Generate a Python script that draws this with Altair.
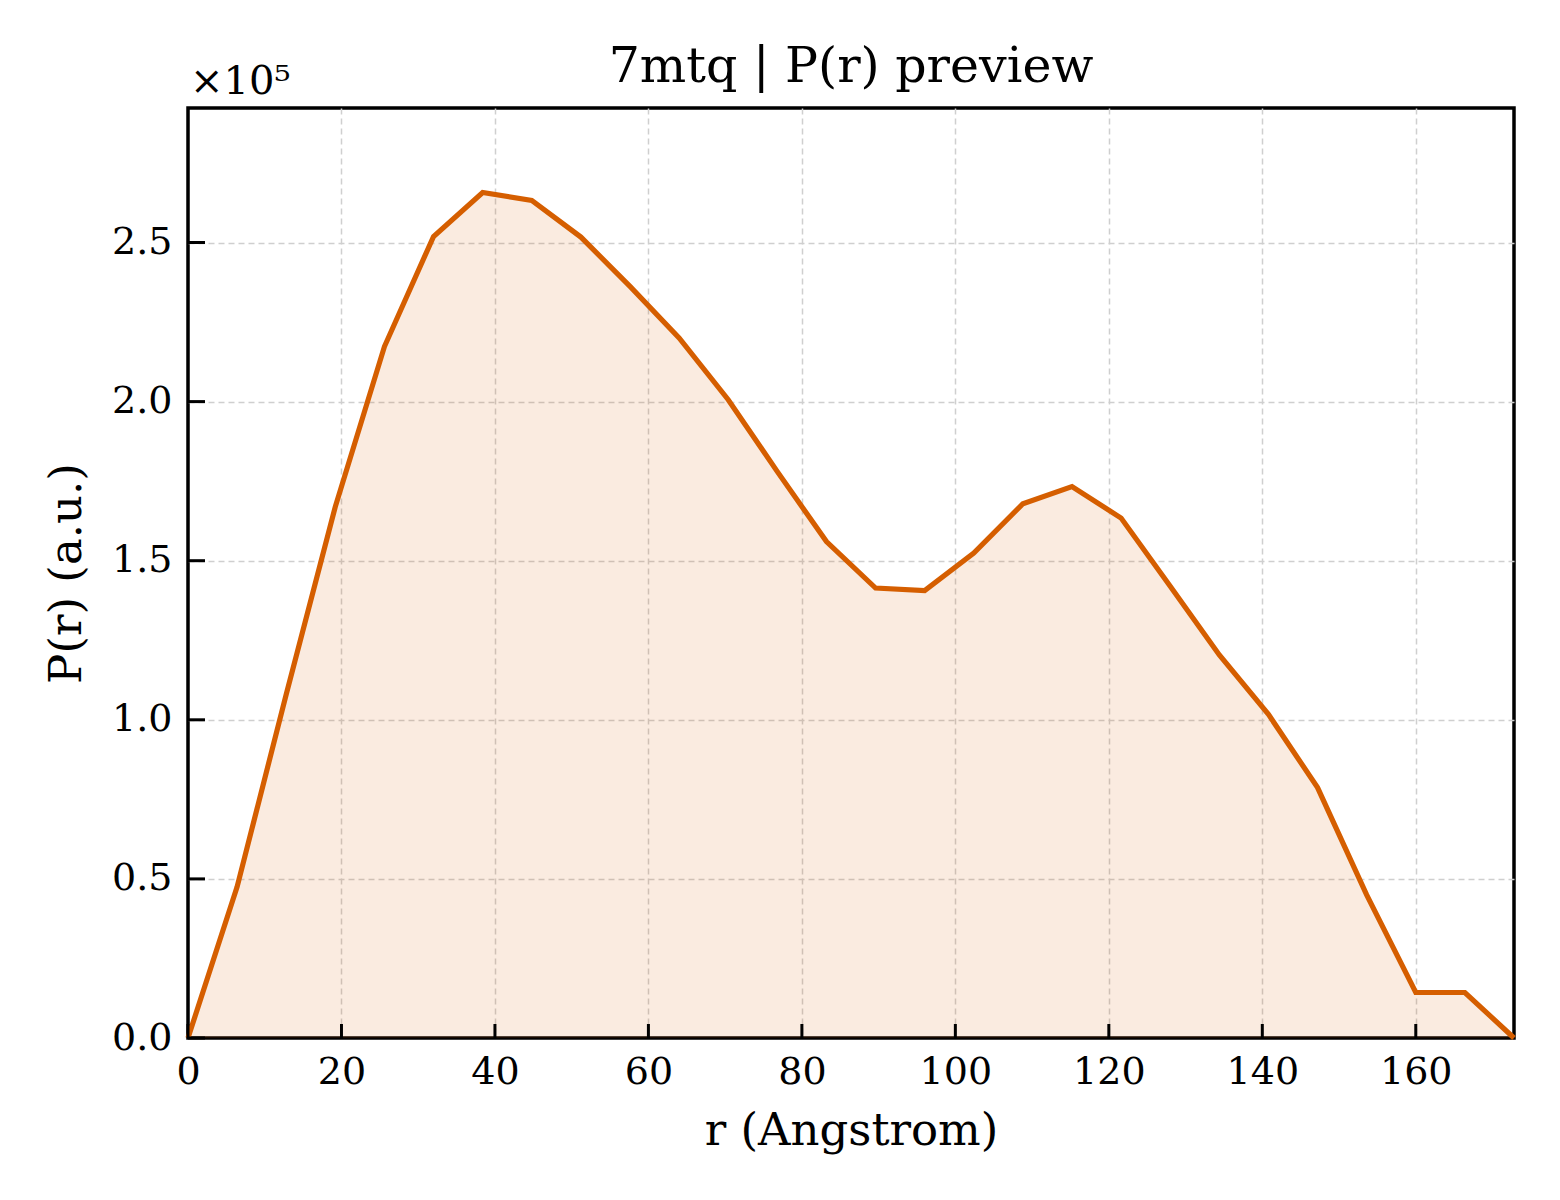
import altair as alt
import pandas as pd

# ---- data ----
r_values = [0.0, 6.4, 12.8, 19.2, 25.6, 32.0, 38.4, 44.8, 51.2, 57.6, 64.0, 70.4,
            76.8, 83.2, 89.6, 96.0, 102.4, 108.8, 115.2, 121.6, 128.0, 134.4,
            140.8, 147.2, 153.6, 160.0, 166.4, 172.8]
pr_values = [0, 47500, 108000, 167000, 217300, 251900, 265700, 263200, 251700,
             236200, 220000, 200600, 178000, 156000, 141400, 140600, 152400,
             167900, 173300, 163400, 142000, 120400, 101700, 78700, 45000,
             14300, 14300, 0]
x_ticks = [0, 20, 40, 60, 80, 100, 120, 140, 160]
y_ticks = [0, 50000, 100000, 150000, 200000, 250000]
x_domain = [0, 172.8]
y_domain = [0, 292270]
title_text = "7mtq | P(r) preview"
x_title = "r (Angstrom)"
y_title = "P(r) (a.u.)"
exponent_text = "×10⁵"

FONT = "DejaVu Serif"
LINE = "#D55E00"
W, H = 1326, 930

df = pd.DataFrame({"r": r_values, "pr": pr_values})
xt = pd.DataFrame({"r": x_ticks})
yt = pd.DataFrame({"pr": y_ticks})
ex = pd.DataFrame({"t": [exponent_text]})

xscale = alt.Scale(domain=x_domain, nice=False, zero=False)
yscale = alt.Scale(domain=y_domain, nice=False, zero=False)

grid_op = {"condition": {"test": "datum.value == 0", "value": 0}, "value": 1}

x_axis = alt.Axis(values=x_ticks, title=x_title, ticks=False, domain=False,
                  labelFont=FONT, labelFontSize=38, labelColor="black",
                  labelPadding=15, labelOverlap=False, labelFlush=False,
                  titleFont=FONT, titleFontSize=45, titleFontWeight="normal",
                  titleColor="black", titlePadding=17,
                  grid=True, gridColor="#cfcfcf", gridWidth=1.5, gridDash=[6, 4],
                  gridOpacity=grid_op)
y_axis = alt.Axis(values=y_ticks, title=y_title, ticks=False, domain=False,
                  labelExpr="format(datum.value / 100000, '.1f')",
                  labelFont=FONT, labelFontSize=38, labelColor="black",
                  labelPadding=16, labelOverlap=False, labelFlush=False,
                  titleFont=FONT, titleFontSize=45, titleFontWeight="normal",
                  titleColor="black", titlePadding=22,
                  grid=True, gridColor="#cfcfcf", gridWidth=1.5, gridDash=[6, 4],
                  gridOpacity=grid_op)

area = alt.Chart(df).mark_area(color=LINE, fillOpacity=0.12).encode(
    x=alt.X("r:Q", scale=xscale, axis=x_axis),
    y=alt.Y("pr:Q", scale=yscale, axis=y_axis),
)
line = alt.Chart(df).mark_line(color=LINE, strokeWidth=5.2).encode(
    x=alt.X("r:Q", scale=xscale),
    y=alt.Y("pr:Q", scale=yscale),
)
xtick_marks = alt.Chart(xt).mark_rule(color="black", strokeWidth=3).encode(
    x=alt.X("r:Q", scale=xscale),
    y=alt.value(H), y2=alt.value(H - 14),
)
ytick_marks = alt.Chart(yt).mark_rule(color="black", strokeWidth=3).encode(
    y=alt.Y("pr:Q", scale=yscale),
    x=alt.value(0), x2=alt.value(17),
)
exp_text = alt.Chart(ex).mark_text(font=FONT, fontSize=40, align="left",
                                   baseline="alphabetic", color="black").encode(
    x=alt.value(2), y=alt.value(-14), text="t:N",
)

chart = alt.layer(area, line, xtick_marks, ytick_marks, exp_text).properties(
    width=W, height=H,
    title=alt.TitleParams(title_text, font=FONT, fontSize=49, fontWeight="normal",
                          color="black", anchor="middle", offset=-30),
    autosize=alt.AutoSizeParams(type="none"),
    padding={"left": 180, "top": 100, "right": 38, "bottom": 154},
).configure(
    background="white",
    view=alt.ViewConfig(stroke="black", strokeWidth=3.5),
)

chart.save("out.html", embed_options={"renderer": "svg", "actions": False})
